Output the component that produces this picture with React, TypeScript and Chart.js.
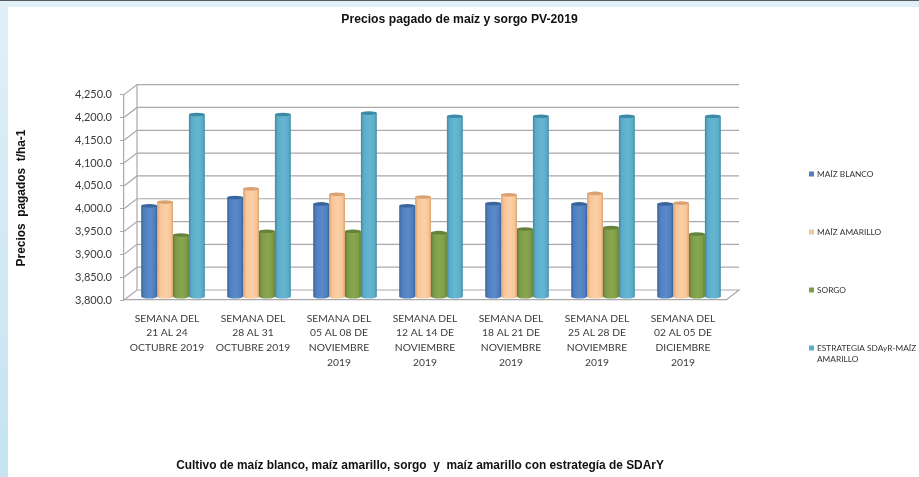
import React, { useEffect, useRef } from "react";
import { Chart, registerables } from "chart.js";

Chart.register(...registerables);

const categories = [
  ["SEMANA DEL", "21 AL 24", "OCTUBRE 2019"],
  ["SEMANA DEL", "28 AL 31", "OCTUBRE 2019"],
  ["SEMANA DEL", "05 AL 08 DE", "NOVIEMBRE", "2019"],
  ["SEMANA DEL", "12 AL 14 DE", "NOVIEMBRE", "2019"],
  ["SEMANA DEL", "18 AL 21 DE", "NOVIEMBRE", "2019"],
  ["SEMANA DEL", "25 AL 28 DE", "NOVIEMBRE", "2019"],
  ["SEMANA DEL", "02 AL 05 DE", "DICIEMBRE", "2019"],
];
const maizBlanco = [4000, 4018, 4004, 4000, 4005, 4004, 4004];
const maizAmarillo = [4008, 4037, 4025, 4019, 4024, 4027, 4006];
const sorgo = [3936, 3944, 3944, 3941, 3949, 3952, 3938];
const estrategia = [4200, 4200, 4203, 4196, 4196, 4196, 4196];

const seriesNames = ["MAÍZ BLANCO", "MAÍZ AMARILLO", "SORGO", "ESTRATEGIA SDAyR-MAÍZ AMARILLO"];
const legendLines = [["MAÍZ BLANCO"], ["MAÍZ AMARILLO"], ["SORGO"], ["ESTRATEGIA SDAyR-MAÍZ", "AMARILLO"]];
const chartTitle = "Precios pagado de maíz y sorgo PV-2019";
const yTitle = "Precios  pagados  t/ha-1";
const xTitle = "Cultivo de maíz blanco, maíz amarillo, sorgo  y  maíz amarillo con estrategía de SDArY";

// [dark edge, main, light, cap]
const palettes = [
  ["#3a659c", "#4f7fbe", "#5a8aca", "#3a659c"],
  ["#d9a273", "#f8c596", "#fbd0a8", "#d9a273"],
  ["#5f7a32", "#7f9c48", "#88a550", "#66823a"],
  ["#3c8aa6", "#5cadca", "#66b6d2", "#3c8aa6"],
];
const legendColors = ["#4f7fbe", "#f8c596", "#7f9c48", "#5cadca"];

const FRONT = { left: 124, right: 726, top: 94, bottom: 300 };
const DEPTH = { dx: 13, dy: -10 };
const BAR_SHIFT = { dx: 6, dy: -3 };
const BAR_W = 15.9;

const gridColor = "#a9a9a9";

const makeGradient = (ctx: any, cx: number, pal: string[]) => {
  const g = ctx.createLinearGradient(cx - BAR_W / 2, 0, cx + BAR_W / 2, 0);
  g.addColorStop(0, pal[0]);
  g.addColorStop(0.18, pal[1]);
  g.addColorStop(0.55, pal[2]);
  g.addColorStop(0.85, pal[1]);
  g.addColorStop(1, pal[0]);
  return g;
};

const wallPlugin = {
  id: "wall",
  beforeDatasetsDraw(chart: any) {
    const { ctx, scales } = chart;
    const y = scales.y;
    const { left, right } = chart.chartArea;
    ctx.save();
    ctx.strokeStyle = gridColor;
    ctx.lineWidth = 1.2;
    y.ticks.forEach((t: any) => {
      const py = y.getPixelForValue(t.value);
      ctx.beginPath();
      ctx.moveTo(left, py);
      ctx.lineTo(left + DEPTH.dx, py + DEPTH.dy);
      ctx.lineTo(right + DEPTH.dx, py + DEPTH.dy);
      if (t.value === y.min) ctx.lineTo(right, py);
      ctx.stroke();
    });
    ctx.beginPath();
    ctx.moveTo(left + DEPTH.dx, y.getPixelForValue(y.max) + DEPTH.dy);
    ctx.lineTo(left + DEPTH.dx, y.getPixelForValue(y.min) + DEPTH.dy);
    ctx.stroke();
    ctx.restore();
    ctx.save();
    ctx.translate(BAR_SHIFT.dx, BAR_SHIFT.dy);
  },
  afterDatasetDraw(chart: any, args: any) {
    const { ctx } = chart;
    const pal = palettes[args.index];
    const y = chart.scales.y;
    args.meta.data.forEach((el: any) => {
      const rx = el.width / 2;
      ctx.fillStyle = makeGradient(ctx, el.x, pal);
      ctx.beginPath();
      ctx.ellipse(el.x, y.getPixelForValue(y.min) - 0.5, rx, 2, 0, 0, Math.PI * 2);
      ctx.fill();
      ctx.fillStyle = pal[3];
      ctx.beginPath();
      ctx.ellipse(el.x, el.y, rx, 1.8, 0, 0, Math.PI * 2);
      ctx.fill();
    });
  },
  afterDatasetsDraw(chart: any) {
    chart.ctx.restore();
    const { ctx } = chart;
    ctx.save();
    ctx.fillStyle = "#111";
    ctx.textBaseline = "middle";
    ctx.textAlign = "center";
    ctx.font = "bold 11.9px 'Liberation Sans'";
    ctx.fillText(xTitle, 420, 466);
    ctx.translate(22, 198);
    ctx.rotate(-Math.PI / 2);
    ctx.fillText(yTitle, 0, 0);
    ctx.restore();
    ctx.save();
    ctx.font = "8.3px Lato";
    ctx.textBaseline = "middle";
    ctx.textAlign = "left";
    const ys = [174, 232, 290, 348];
    seriesNames.forEach((_, i) => {
      ctx.fillStyle = legendColors[i];
      ctx.fillRect(809, ys[i] - 2.5, 5, 5);
      ctx.fillStyle = "#333";
      legendLines[i].forEach((line, k) => ctx.fillText(line, 817, ys[i] + k * 11.5));
    });
    ctx.restore();
  },
};

const bandPlugin = {
  id: "band",
  beforeDraw(chart: any) {
    const { ctx, width, height } = chart;
    ctx.fillStyle = "#ffffff";
    ctx.fillRect(0, 0, width, height);
    const g = ctx.createLinearGradient(0, 0, 0, height);
    g.addColorStop(0, "#e0f0f8");
    g.addColorStop(1, "#c5e3f1");
    ctx.fillStyle = g;
    ctx.fillRect(0, 0, 8, height);
    ctx.fillStyle = "#e0f0f8";
    ctx.fillRect(0, 0, width, 7);
    ctx.fillStyle = "#555c60";
    ctx.fillRect(0, 0, width, 1);
  },
};

export default function App() {
  const ref = useRef<HTMLCanvasElement>(null);
  useEffect(() => {
    document.body.style.margin = "0";
    const bg = (i: number) => (c: any) => {
      const pal = palettes[i];
      const xs = c.chart.scales.x;
      if (!xs || c.dataIndex === undefined) return pal[1];
      const cx = xs.getPixelForValue(c.dataIndex) + (i - 1.5) * BAR_W;
      if (!Number.isFinite(cx)) return pal[1];
      return makeGradient(c.chart.ctx, cx, pal);
    };
    const values = [maizBlanco, maizAmarillo, sorgo, estrategia];
    const chart = new Chart(ref.current!, {
      type: "bar",
      data: {
        labels: categories as any,
        datasets: values.map((data, i) => ({
          label: seriesNames[i],
          data,
          base: 3800,
          backgroundColor: bg(i),
          borderWidth: 0,
          categoryPercentage: (BAR_W * 4) / 86,
          barPercentage: 1,
          clip: false as any,
        })),
      },
      options: {
        responsive: false,
        animation: false,
        layout: { padding: 0 },
        plugins: {
          legend: { display: false },
          tooltip: { enabled: false },
          title: {
            display: true,
            text: chartTitle,
            color: "#111",
            font: { family: "'Liberation Sans'", size: 12.2, weight: "bold" },
            padding: { top: 12, bottom: 68 },
          },
        },
        scales: {
          x: {
            grid: { display: false },
            border: { color: gridColor, width: 1.2 },
            ticks: {
              color: "#3a3a3a",
              font: { family: "Lato", size: 10.3, lineHeight: 1.43 },
              maxRotation: 0,
              minRotation: 0,
              autoSkip: false,
              padding: 3,
            },
            afterFit: (s: any) => {
              s.height = 477 - FRONT.bottom;
            },
          },
          y: {
            min: 3800,
            max: 4250,
            grid: { drawOnChartArea: false, color: gridColor, tickLength: 4 },
            border: { color: gridColor, width: 1.2 },
            ticks: {
              stepSize: 50,
              color: "#3a3a3a",
              font: { family: "Lato", size: 11 },
              padding: 8,
              callback: (v: any) =>
                Number(v).toLocaleString("en-US", { minimumFractionDigits: 1, maximumFractionDigits: 1 }),
            },
            afterFit: (s: any) => {
              s.width = FRONT.left;
            },
          },
          legendGutter: {
            position: "right",
            display: true,
            grid: { display: false },
            border: { display: false },
            ticks: { display: false },
            afterFit: (s: any) => {
              s.width = 919 - FRONT.right;
            },
          },
        },
      },
      plugins: [bandPlugin, wallPlugin],
    } as any);
    return () => chart.destroy();
  }, []);
  return (
    <canvas
      ref={ref}
      width={919}
      height={477}
      style={{ position: "fixed", left: 0, top: 0, width: 919, height: 477, filter: "blur(0.4px)" }}
    />
  );
}
